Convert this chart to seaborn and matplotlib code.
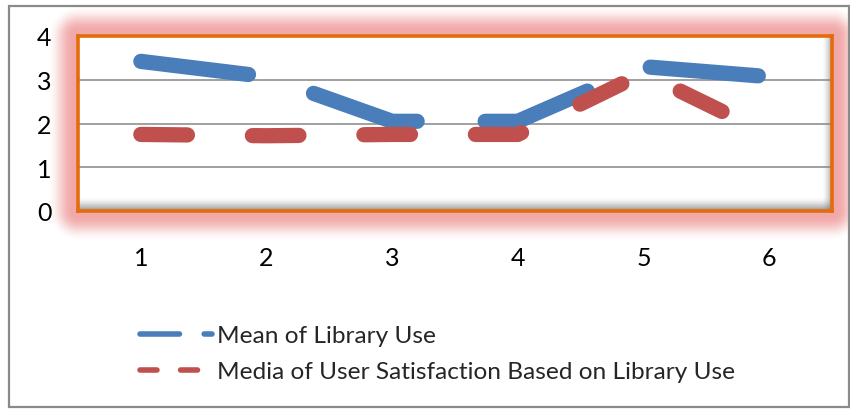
import numpy as np
import pandas as pd
import matplotlib
matplotlib.use("Agg")
import matplotlib.pyplot as plt
import seaborn as sns
from matplotlib.lines import Line2D
from matplotlib.patches import Rectangle

# ---- data ----
categories = [1, 2, 3, 4, 5, 6]
mean_library_use = [3.42, 3.07, 2.05, 2.05, 3.30, 3.07]
media_user_satisfaction = [1.75, 1.72, 1.75, 1.75, 3.15, 1.75]
series_labels = ["Mean of Library Use",
                 "Media of User Satisfaction Based on Library Use"]
y_ticks = [0, 1, 2, 3, 4]

BLUE = "#4A7EBB"
RED = "#C0504D"
ORANGE = "#E46C0A"

sns.set_theme(style="white")
plt.rcParams["font.family"] = ["Lato", "DejaVu Sans"]

W, H = 850, 410
fig = plt.figure(figsize=(W / 100, H / 100), dpi=100)
fig.patch.set_facecolor("white")

# plot-area position (pixels, top-origin)
X0, X1, Y0, Y1 = 78, 832, 37, 212

# soft red glow around the plot area (outside only)
yy, xx = np.mgrid[0:H, 0:W] + 0.5
dx = np.maximum(np.maximum(X0 - xx, 0), xx - X1)
dy = np.maximum(np.maximum(Y0 - yy, 0), yy - Y1)
d = np.hypot(dx, dy)
t = np.clip((d - 5) / 25, 0, 1)
alpha = 0.6 * (1 - (3 * t ** 2 - 2 * t ** 3))
alpha[d <= 0] = 0
glow = np.zeros((H, W, 4))
glow[..., 0] = 232 / 255
glow[..., 1] = 110 / 255
glow[..., 2] = 110 / 255
glow[..., 3] = alpha
fig.figimage(glow, xo=0, yo=0, origin="upper", zorder=0)

ax = fig.add_axes([X0 / W, 1 - Y1 / H, (X1 - X0) / W, (Y1 - Y0) / H])
ax.set_zorder(2)
ax.set_facecolor("white")

df = pd.DataFrame({"category": categories,
                   "mean": mean_library_use,
                   "media": media_user_satisfaction})

BLUE_DASH = (7.1, 4.45)
RED_DASH = (3.05, 4.25)

sns.lineplot(data=df, x="category", y="mean", ax=ax, color=BLUE,
             linewidth=11, zorder=3)
lb = ax.lines[-1]
lb.set_dashes(BLUE_DASH)
lb.set_dash_capstyle("round")
lb.set_dash_joinstyle("round")

sns.lineplot(data=df, x="category", y="media", ax=ax, color=RED,
             linewidth=11, zorder=4)
lr = ax.lines[-1]
lr.set_dashes(RED_DASH)
lr.set_dash_capstyle("round")
lr.set_dash_joinstyle("round")

# inner shadow (bottom and right)
nb = 30
gb = np.zeros((nb, 1, 4))
gb[..., :3] = 0.45
gb[:, 0, 3] = np.linspace(0.85, 0.0, nb) ** 1.5
ax.imshow(gb, extent=(0, 1, 0, 14 / (Y1 - Y0)), transform=ax.transAxes,
          aspect="auto", origin="lower", zorder=0.4, interpolation="bilinear")
gr = np.zeros((1, nb, 4))
gr[..., :3] = 0.45
gr[0, :, 3] = np.linspace(0.0, 0.7, nb) ** 1.5
ax.imshow(gr, extent=(1 - 10 / (X1 - X0), 1, 0, 1), transform=ax.transAxes,
          aspect="auto", origin="lower", zorder=0.4, interpolation="bilinear")

ax.set_xlim(0.5, 6.5)
ax.set_ylim(0, 4)
ax.set_xticks(categories)
ax.set_yticks(y_ticks)
ax.set_xlabel("")
ax.set_ylabel("")
ax.yaxis.grid(True, color="#868686", linewidth=1.1, zorder=1)
ax.xaxis.grid(False)
ax.set_axisbelow(True)
ax.tick_params(axis="both", length=0, labelsize=18, colors="black")
ax.tick_params(axis="y", pad=19)
ax.tick_params(axis="x", pad=25)
for s in ax.spines.values():
    s.set_visible(True)
    s.set_color(ORANGE)
    s.set_linewidth(2.6)

# legend
handles = [
    Line2D([], [], color=BLUE, linewidth=4, dashes=BLUE_DASH,
           dash_capstyle="round"),
    Line2D([], [], color=RED, linewidth=4, dashes=RED_DASH,
           dash_capstyle="round"),
]
fig.legend(handles, series_labels, loc="upper left",
           bbox_to_anchor=(140 / W, 1 - 326 / H), frameon=False,
           fontsize=17.6, handlelength=2.95, handletextpad=0.2,
           labelspacing=0.62, borderpad=0, borderaxespad=0)

# outer chart border
fig.add_artist(Rectangle((9 / W, 1 - 408 / H), (849 - 9) / W, (408 - 7) / H,
                         transform=fig.transFigure, fill=False,
                         edgecolor="#8a8a8a", linewidth=1.6))

fig.savefig("out.png", dpi=100)
